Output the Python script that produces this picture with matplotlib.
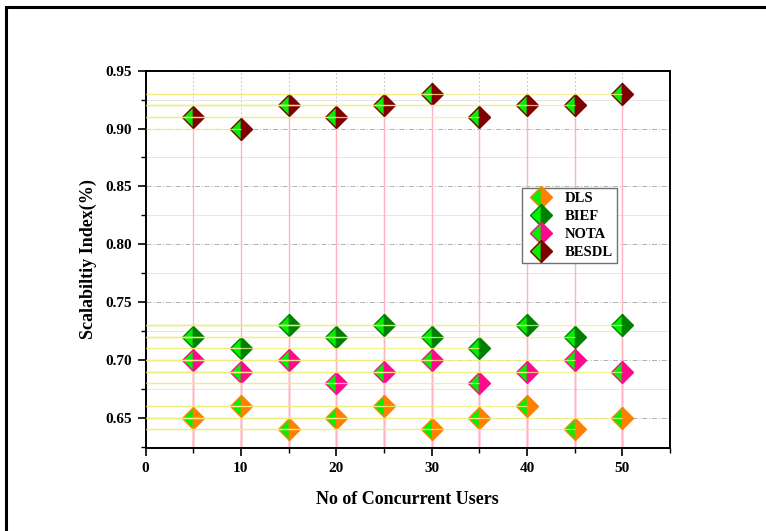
import matplotlib
matplotlib.use("Agg")
import matplotlib.pyplot as plt
from matplotlib.lines import Line2D
from matplotlib.patches import Rectangle
from matplotlib.ticker import MultipleLocator

# Data.
users = [5, 10, 15, 20, 25, 30, 35, 40, 45, 50]
dls = [0.65, 0.66, 0.64, 0.65, 0.66, 0.64, 0.65, 0.66, 0.64, 0.65]
bief = [0.72, 0.71, 0.73, 0.72, 0.73, 0.72, 0.71, 0.73, 0.72, 0.73]
nota = [0.70, 0.69, 0.70, 0.68, 0.69, 0.70, 0.68, 0.69, 0.70, 0.69]
besdl = [0.91, 0.90, 0.92, 0.91, 0.92, 0.93, 0.91, 0.92, 0.92, 0.93]
names = ["DLS", "BIEF", "NOTA", "BESDL"]
colors = ["#FF8000", "#008000", "#FF0A8C", "#800000"]

plt.rcParams["font.family"] = ["Liberation Serif", "DejaVu Serif"]
plt.rcParams["font.weight"] = "bold"

fig = plt.figure(figsize=(7.66, 5.31), dpi=100)
ax = fig.add_axes([0.19, 0.1557, 0.6847, 0.7112])

# Page frame.
fig.patches.append(Rectangle((6.0 / 766, -0.1), 1.2, 1.1 - 7.0 / 531,
    transform=fig.transFigure, fill=False, edgecolor="black", linewidth=2.2))

x_min, x_max = 0, 55
y_min, y_max = 0.6237, 0.95
ax.set_xlim([x_min, x_max])
ax.set_ylim([y_min, y_max])

# Grid.
ax.xaxis.set_major_locator(MultipleLocator(10))
ax.xaxis.set_minor_locator(MultipleLocator(5))
ax.yaxis.set_major_locator(MultipleLocator(0.05))
ax.yaxis.set_minor_locator(MultipleLocator(0.025))
ax.grid(which="major", axis="y", color="#B0B0B0", linestyle=(0, (5, 2, 1, 2)),
    linewidth=0.7, zorder=0)
ax.grid(which="minor", axis="y", color="#E6E6E6", linestyle="-",
    linewidth=0.7, zorder=0)
ax.grid(which="both", axis="x", color="#C8C8C8", linestyle=(0, (2, 2)),
    linewidth=0.7, zorder=0)

series = [dls, nota, bief, besdl]
series_colors = [colors[0], colors[2], colors[1], colors[3]]

# Drop lines to the axes.
for values in series:
    ax.hlines(values, x_min, users, color="#EEEE80", linewidth=0.9, zorder=4,
        alpha=0.8)
    ax.vlines(users, y_min, values, color="#FFB3C0", linewidth=1.0, zorder=2)

# Split diamond markers.
for values, c in zip(series, series_colors):
    ax.plot(users, values, linestyle="none", marker="D", markersize=11,
        fillstyle="left", markerfacecolor="#00F000", markerfacecoloralt=c,
        markeredgecolor=c, markeredgewidth=1.0, zorder=3)

ax.tick_params(axis="both", which="major", direction="out", length=6,
    width=1.2, labelsize=11)
ax.tick_params(axis="both", which="minor", direction="out", length=3.5,
    width=1.0)
ax.set_yticks([0.65, 0.70, 0.75, 0.80, 0.85, 0.90, 0.95])
ax.set_yticklabels(["0.65", "0.70", "0.75", "0.80", "0.85", "0.90", "0.95"])
for spine in ax.spines.values():
    spine.set_linewidth(1.4)

ax.set_xlabel("No of Concurrent Users", fontsize=13, fontweight="bold",
    labelpad=12)
ax.set_ylabel("Scalabiltiy Index(%)", fontsize=13, fontweight="bold",
    labelpad=6)

# Opposite axes with their own unlinked ticks.
ax_top = fig.add_axes(ax.get_position(), frameon=False)
ax_top.set_xlim([0, 1])
ax_top.set_ylim([0, 1])
ax_top.xaxis.set_major_locator(MultipleLocator(0.2))
ax_top.xaxis.set_minor_locator(MultipleLocator(0.1))
ax_top.yaxis.set_major_locator(MultipleLocator(0.2))
ax_top.yaxis.set_minor_locator(MultipleLocator(0.1))
ax_top.tick_params(which="major", direction="in", length=6, width=1.2,
    top=True, right=True, bottom=False, left=False,
    labeltop=False, labelright=False, labelbottom=False, labelleft=False)
ax_top.tick_params(which="minor", direction="in", length=3.5, width=1.0,
    top=True, right=True, bottom=False, left=False)
ax_top.set_zorder(-1)

# Legend.
handles = []
for name, c in zip(names, colors):
    handles.append(Line2D([], [], linestyle="none", marker="D", markersize=11,
        fillstyle="left", markerfacecolor="#00F000", markerfacecoloralt=c,
        markeredgecolor=c, markeredgewidth=1.0, label=name))
legend = ax.legend(handles=handles, loc="upper left",
    bbox_to_anchor=(0.718, 0.69), fancybox=False, edgecolor="#707070",
    framealpha=1.0, borderaxespad=0, prop={"weight": "bold", "size": 10.5},
    handletextpad=0.6, labelspacing=0.32, borderpad=0.3)
legend.get_frame().set_linewidth(1.0)
legend.set_zorder(5)

fig.savefig("out.png", dpi=100)
